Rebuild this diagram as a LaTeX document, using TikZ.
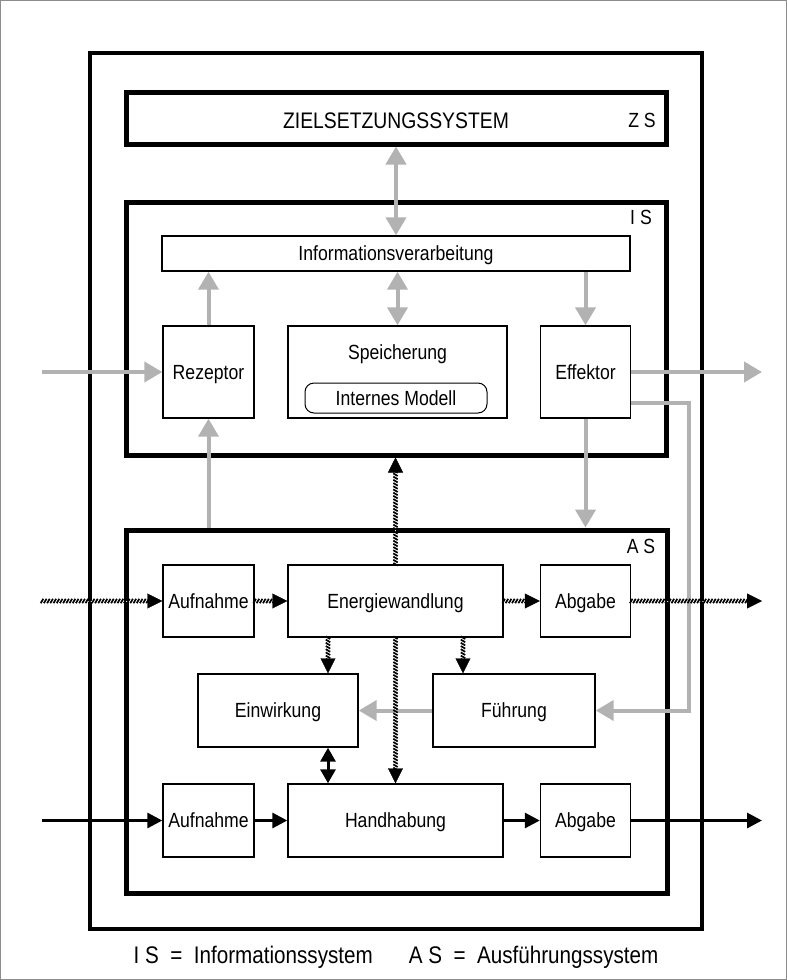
\documentclass[tikz,border=0pt]{standalone}
\usepackage{fontspec}
\setmainfont{Liberation Sans}[FakeStretch=0.86]
\usetikzlibrary{arrows.meta,decorations.markings,positioning}
\tikzstyle{bx} = [rectangle, draw, line width=1.4pt, inner sep=0pt, text centered, text depth=0pt]
\tikzstyle{frame} = [rectangle, draw, line width=5pt, inner sep=0pt]
\tikzstyle{info} = [draw=black!30, line width=4pt, -{Triangle[length=18pt,width=20pt]}]
\tikzstyle{infob} = [info, {Triangle[length=18pt,width=20pt]}-{Triangle[length=18pt,width=20pt]}]
\tikzstyle{stoff} = [draw=black, line width=3pt, -{Triangle[length=15pt,width=15pt]}]
\tikzstyle{energie} = [draw=white, line width=0.4pt, -{Triangle[length=15pt,width=15pt,color=black]},
    postaction={decorate}, decoration={markings,
    mark=between positions 0 and -10pt step 3.2pt with {\draw[-,black,line width=1.7pt] (-1.3pt,-2.2pt) -- (1.3pt,2.2pt);}}]
\newcommand{\txt}{\fontsize{20.5}{24}\selectfont}
\newcommand{\titel}{\fontsize{22.5}{26}\selectfont}
\newcommand{\fusstxt}{\fontsize{24}{28}\selectfont}

\begin{document}
\begin{tikzpicture}[x=1pt,y=-1pt,font=\txt]
  \useasboundingbox (0,0) rectangle (787,980);
  \draw[black!45,line width=1pt] (0.5,0.5) rectangle (786.5,979.5);

  \node[frame,line width=3.3pt,minimum width=612pt,minimum height=876pt] (sys) at (396,491) {};
  \node[frame,minimum width=540pt,minimum height=52pt] (zs) at (396,118) {};
  \node[font=\titel] (zst) at (396,121) {ZIELSETZUNGSSYSTEM};
  \node[frame,minimum width=540pt,minimum height=253pt] (is) at (396,328.5) {};
  \node[frame,minimum width=541pt,minimum height=363pt] (as) at (396.5,711.5) {};
  \node (zsl) at (642,120) {Z S};
  \node (isl) at (641,217) {I S};
  \node (asl) at (641,546) {A S};

  \node[bx,minimum width=468pt,minimum height=35pt] (iv) at (396,253.5) {Informationsverarbeitung};
  \node[bx,minimum width=91pt,minimum height=92pt] (rez) at (208.5,372) {Rezeptor};
  \node[bx,minimum width=219pt,minimum height=92pt] (sp) at (397.5,372) {};
  \node (spt) at (397.5,354) {Speicherung};
  \node[bx,line width=1pt,rounded corners=9pt,minimum width=182pt,minimum height=30pt] (im) at (396,398) {Internes Modell};
  \node[bx,minimum width=90pt,minimum height=92pt] (eff) at (585.5,372) {Effektor};

  \node[bx,minimum width=91pt,minimum height=72pt] (auf1) at (208.5,601) {Aufnahme};
  \node[bx,minimum width=215pt,minimum height=72pt] (ew) at (395.5,601) {Energiewandlung};
  \node[bx,minimum width=90pt,minimum height=72pt] (ab1) at (585.5,601) {Abgabe};
  \node[bx,minimum width=160pt,minimum height=73pt] (einw) at (278,710.5) {Einwirkung};
  \node[bx,minimum width=162pt,minimum height=73pt] (fue) at (514,710.5) {Führung};
  \node[bx,minimum width=91pt,minimum height=73pt] (auf2) at (208.5,820.5) {Aufnahme};
  \node[bx,minimum width=215pt,minimum height=73pt] (hh) at (395.5,820.5) {Handhabung};
  \node[bx,minimum width=90pt,minimum height=73pt] (ab2) at (585.5,820.5) {Abgabe};

  \node[font=\fusstxt] (fuss) at (396,957) {I S \ = \ Informationssystem\hspace{1.5em}A S \ = \ Ausführungssystem};

  \coordinate (ein1) at (42,372);
  \coordinate (aus1) at (762,372);
  \coordinate (rueck) at (689,403);
  \coordinate (ein2) at (42,601);
  \coordinate (aus2) at (762,601);
  \coordinate (ein3) at (42,820.5);
  \coordinate (aus3) at (762,820.5);

  \path (zs) edge[infob] (iv);
  \path (rez) edge[info] (rez |- iv.south);
  \path (sp.north) edge[infob] (sp.north |- iv.south);
  \path (eff.north |- iv.south) edge[info] (eff);
  \path (ein1) edge[info] (rez);
  \path (eff) edge[info] (aus1);
  \draw[info] ([yshift=-31pt]eff.east) -- (rueck) |- (fue.east);
  \path (eff) edge[info] (eff |- as.north);
  \path (rez |- as.north) edge[info] (rez);
  \path (fue) edge[info] (einw);

  \path (ein2) edge[energie] (auf1);
  \path (auf1) edge[energie] (ew);
  \path (ew) edge[energie] (ab1);
  \path (ab1) edge[energie] (aus2);
  \path (ew) edge[energie] (ew |- is.south);
  \path ([xshift=50pt]einw.north |- ew.south) edge[energie] ([xshift=50pt]einw.north);
  \path ([xshift=-51pt]fue.north |- ew.south) edge[energie] ([xshift=-51pt]fue.north);
  \path (ew) edge[energie] (hh);

  \path (ein3) edge[stoff] (auf2);
  \path (auf2) edge[stoff] (hh);
  \path (hh) edge[stoff] (ab2);
  \path (ab2) edge[stoff] (aus3);
  \path ([xshift=50pt]einw.south) edge[stoff,{Triangle[length=14pt,width=15pt]}-{Triangle[length=14pt,width=15pt]}] ([xshift=50pt]einw.south |- hh.north);
\end{tikzpicture}
\end{document}
